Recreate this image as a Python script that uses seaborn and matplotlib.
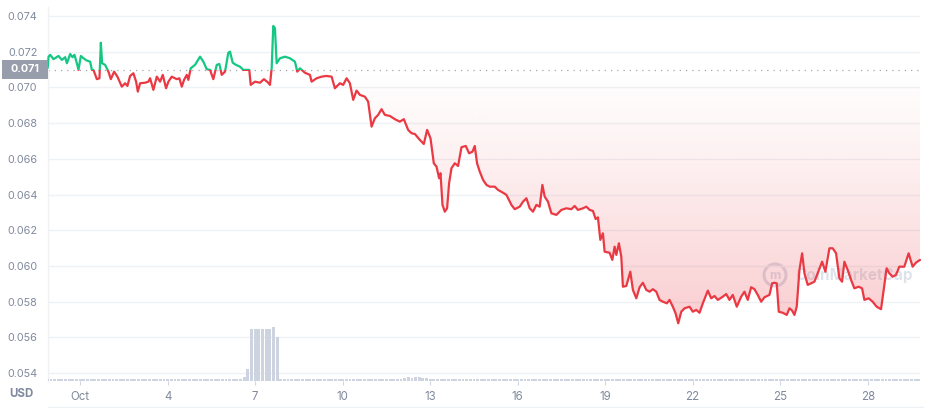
import numpy as np
import pandas as pd
import matplotlib
matplotlib.use("Agg")
import matplotlib.pyplot as plt
import seaborn as sns
from matplotlib.patches import Rectangle, Ellipse
from matplotlib.lines import Line2D
from matplotlib.colors import to_rgb

RED = "#ea3943"
GREEN = "#16c784"
GREY = "#808a9d"
GRID = "#eff2f5"
BAR = "#cdd3df"
MARK = "#c9d1df"

# price, days counted from Oct 0 (Oct 1 = 1.0)
days = [
    -0.113, -0.084, -0.027, 0.086, 0.257, 0.373, 0.486, 0.545, 0.658, 0.736,
    0.805, 0.887, 0.942, 1.024, 1.113, 1.229, 1.342, 1.401, 1.455, 1.572,
    1.661, 1.709, 1.753, 1.856, 1.969, 2.051, 2.164, 2.277, 2.428, 2.541,
    2.620, 2.712, 2.825, 2.918, 2.976, 3.055, 3.226, 3.339, 3.397, 3.510,
    3.627, 3.740, 3.832, 3.945, 4.024, 4.140, 4.312, 4.401, 4.483, 4.562,
    4.654, 4.709, 4.791, 4.938, 5.110, 5.223, 5.339, 5.452, 5.565, 5.682,
    5.771, 5.853, 5.966, 6.079, 6.137, 6.229, 6.342, 6.479, 6.592, 6.798,
    6.846, 6.993, 7.164, 7.301, 7.449, 7.507, 7.565, 7.620, 7.678, 7.736,
    7.849, 8.021, 8.192, 8.363, 8.442, 8.534, 8.705, 8.877, 8.935, 9.106,
    9.277, 9.449, 9.620, 9.733, 9.904, 10.017, 10.134, 10.247, 10.360, 10.476,
    10.589, 10.760, 10.873, 10.990, 11.103, 11.216, 11.332, 11.445, 11.616, 11.788,
    11.959, 12.096, 12.243, 12.360, 12.473, 12.644, 12.781, 12.894, 13.010, 13.123,
    13.216, 13.305, 13.353, 13.421, 13.500, 13.579, 13.647, 13.729, 13.842, 13.955,
    14.072, 14.219, 14.332, 14.449, 14.527, 14.606, 14.699, 14.812, 14.928, 15.041,
    15.212, 15.325, 15.497, 15.613, 15.784, 15.897, 16.068, 16.182, 16.298, 16.411,
    16.524, 16.640, 16.753, 16.846, 16.925, 17.038, 17.154, 17.325, 17.497, 17.668,
    17.839, 17.952, 18.065, 18.236, 18.353, 18.466, 18.579, 18.671, 18.750, 18.832,
    18.921, 18.979, 19.151, 19.243, 19.322, 19.380, 19.469, 19.551, 19.606, 19.723,
    19.860, 19.949, 20.065, 20.178, 20.291, 20.408, 20.521, 20.634, 20.750, 20.863,
    20.976, 21.113, 21.205, 21.318, 21.411, 21.503, 21.606, 21.719, 21.890, 22.003,
    22.120, 22.233, 22.346, 22.517, 22.633, 22.747, 22.860, 23.031, 23.147, 23.260,
    23.373, 23.510, 23.661, 23.774, 23.887, 24.003, 24.116, 24.229, 24.346, 24.459,
    24.630, 24.723, 24.801, 24.880, 24.949, 25.086, 25.223, 25.315, 25.408, 25.486,
    25.565, 25.658, 25.750, 25.829, 25.942, 26.058, 26.171, 26.284, 26.435, 26.548,
    26.685, 26.798, 26.914, 27.027, 27.120, 27.199, 27.312, 27.428, 27.541, 27.688,
    27.805, 27.884, 28.031, 28.168, 28.305, 28.455, 28.568, 28.647, 28.740, 28.853,
    28.969, 29.082, 29.253, 29.401, 29.538, 29.654, 29.791,
]
price = [
    0.07109, 0.07172, 0.07182, 0.07158, 0.07176, 0.07154, 0.07169, 0.07135, 0.07187, 0.07169,
    0.07182, 0.07135, 0.07098, 0.07176, 0.07163, 0.07150, 0.07144, 0.07098, 0.07098, 0.07046,
    0.07051, 0.07250, 0.07135, 0.07126, 0.07088, 0.07046, 0.07088, 0.07060, 0.07004, 0.07023,
    0.07008, 0.07064, 0.07079, 0.07032, 0.06976, 0.07023, 0.07026, 0.07032, 0.07051, 0.06986,
    0.07060, 0.07032, 0.07070, 0.06995, 0.07032, 0.07060, 0.07046, 0.07051, 0.07004, 0.07042,
    0.07070, 0.07042, 0.07107, 0.07126, 0.07172, 0.07144, 0.07102, 0.07098, 0.07046, 0.07126,
    0.07131, 0.07070, 0.07088, 0.07194, 0.07200, 0.07138, 0.07126, 0.07116, 0.07098, 0.07098,
    0.07014, 0.07032, 0.07026, 0.07046, 0.07026, 0.07014, 0.07107, 0.07344, 0.07331, 0.07135,
    0.07163, 0.07172, 0.07163, 0.07144, 0.07088, 0.07107, 0.07082, 0.07070, 0.07032, 0.07051,
    0.07060, 0.07064, 0.07060, 0.06995, 0.07023, 0.07014, 0.07051, 0.07023, 0.06930, 0.06982,
    0.06958, 0.06948, 0.06920, 0.06780, 0.06827, 0.06846, 0.06878, 0.06846, 0.06840, 0.06822,
    0.06808, 0.06822, 0.06762, 0.06743, 0.06739, 0.06706, 0.06683, 0.06762, 0.06715, 0.06575,
    0.06556, 0.06491, 0.06519, 0.06342, 0.06304, 0.06323, 0.06463, 0.06547, 0.06575, 0.06560,
    0.06665, 0.06672, 0.06631, 0.06640, 0.06672, 0.06575, 0.06528, 0.06482, 0.06454, 0.06444,
    0.06444, 0.06426, 0.06410, 0.06398, 0.06342, 0.06318, 0.06332, 0.06360, 0.06379, 0.06323,
    0.06304, 0.06342, 0.06332, 0.06454, 0.06388, 0.06360, 0.06295, 0.06286, 0.06314, 0.06323,
    0.06318, 0.06336, 0.06314, 0.06323, 0.06332, 0.06314, 0.06308, 0.06263, 0.06272, 0.06146,
    0.06183, 0.06080, 0.06074, 0.06034, 0.06108, 0.06062, 0.06127, 0.06052, 0.05884, 0.05888,
    0.05968, 0.05866, 0.05819, 0.05881, 0.05906, 0.05866, 0.05856, 0.05870, 0.05856, 0.05810,
    0.05800, 0.05791, 0.05810, 0.05772, 0.05735, 0.05679, 0.05744, 0.05763, 0.05772, 0.05744,
    0.05754, 0.05738, 0.05791, 0.05862, 0.05819, 0.05832, 0.05810, 0.05828, 0.05843, 0.05810,
    0.05838, 0.05772, 0.05828, 0.05856, 0.05810, 0.05881, 0.05870, 0.05838, 0.05800, 0.05825,
    0.05838, 0.05903, 0.05906, 0.05903, 0.05744, 0.05738, 0.05726, 0.05763, 0.05750, 0.05726,
    0.05772, 0.05978, 0.06071, 0.05959, 0.05894, 0.05903, 0.05912, 0.05959, 0.06024, 0.05968,
    0.06099, 0.06099, 0.06071, 0.05931, 0.05912, 0.06024, 0.05978, 0.05922, 0.05875, 0.05884,
    0.05875, 0.05810, 0.05819, 0.05800, 0.05772, 0.05758, 0.05894, 0.05987, 0.05959, 0.05940,
    0.05950, 0.05996, 0.05996, 0.06071, 0.05996, 0.06019, 0.06034,
]
ref_price = 0.071

# volume, relative, 3-hour bars starting at day -0.125
vol_start = -0.125
vol_step = 0.125
volume = [
    0.04, 0.04, 0.04, 0.04, 0.04, 0.04, 0.04, 0.04,
    0.04, 0.04, 0.04, 0.04, 0.04, 0.04, 0.04, 0.04,
    0.04, 0.04, 0.04, 0.04, 0.04, 0.04, 0.04, 0.04,
    0.04, 0.04, 0.04, 0.04, 0.04, 0.04, 0.04, 0.04,
    0.04, 0.04, 0.04, 0.04, 0.04, 0.04, 0.04, 0.04,
    0.04, 0.04, 0.04, 0.04, 0.04, 0.04, 0.04, 0.04,
    0.04, 0.04, 0.04, 0.04, 0.04, 0.04, 0.08, 0.23,
    1.00, 1.00, 1.00, 1.00, 1.00, 1.00, 1.04, 0.85,
    0.04, 0.04, 0.04, 0.04, 0.04, 0.04, 0.04, 0.04,
    0.04, 0.04, 0.04, 0.04, 0.04, 0.04, 0.04, 0.04,
    0.04, 0.04, 0.04, 0.04, 0.04, 0.04, 0.04, 0.04,
    0.04, 0.04, 0.04, 0.04, 0.04, 0.04, 0.04, 0.04,
    0.04, 0.04, 0.065, 0.07, 0.065, 0.07, 0.07, 0.065,
    0.06, 0.04, 0.04, 0.04, 0.04, 0.04, 0.04, 0.04,
    0.04, 0.04, 0.04, 0.04, 0.04, 0.04, 0.04, 0.04,
    0.04, 0.04, 0.04, 0.04, 0.04, 0.04, 0.04, 0.04,
    0.04, 0.04, 0.04, 0.04, 0.04, 0.04, 0.04, 0.04,
    0.04, 0.04, 0.04, 0.04, 0.04, 0.04, 0.04, 0.04,
    0.04, 0.04, 0.04, 0.04, 0.04, 0.04, 0.04, 0.04,
    0.04, 0.04, 0.04, 0.04, 0.04, 0.04, 0.04, 0.04,
    0.04, 0.04, 0.04, 0.04, 0.04, 0.04, 0.04, 0.04,
    0.04, 0.04, 0.04, 0.04, 0.04, 0.04, 0.04, 0.04,
    0.04, 0.04, 0.04, 0.04, 0.04, 0.04, 0.04, 0.04,
    0.04, 0.04, 0.04, 0.04, 0.04, 0.04, 0.04, 0.04,
    0.04, 0.04, 0.04, 0.04, 0.04, 0.04, 0.04, 0.04,
    0.04, 0.04, 0.04, 0.04, 0.04, 0.04, 0.04, 0.04,
    0.04, 0.04, 0.04, 0.04, 0.04, 0.04, 0.04, 0.04,
    0.04, 0.04, 0.04, 0.04, 0.04, 0.04, 0.04, 0.04,
    0.04, 0.04, 0.04, 0.04, 0.04, 0.04, 0.04, 0.04,
    0.04, 0.04, 0.04, 0.04, 0.04, 0.04, 0.04, 0.04,
]

x_ticks = [1, 4, 7, 10, 13, 16, 19, 22, 25, 28]
x_labels = ["Oct", "4", "7", "10", "13", "16", "19", "22", "25", "28"]
y_ticks = [0.054, 0.056, 0.058, 0.060, 0.062, 0.064, 0.066, 0.068, 0.070, 0.072, 0.074]

sns.set_theme(style="white")
plt.rcParams["font.family"] = ["Inter", "DejaVu Sans"]

df = pd.DataFrame({"day": days, "price": price})
x0, x1 = df["day"].min(), df["day"].max()
p = df["price"].to_numpy()

fig = plt.figure(figsize=(9.42, 4.08), dpi=100)
ax = fig.add_axes([47.7 / 942, 27 / 408, (920 - 47.7) / 942, 374 / 408])

# gradient fills between price and the reference price
fill_lo = ax.fill_between(df["day"], np.minimum(p, ref_price), ref_price,
                          facecolor="none", edgecolor="none")
fill_hi = ax.fill_between(df["day"], ref_price, np.maximum(p, ref_price),
                          facecolor="none", edgecolor="none")

grad_r = np.zeros((256, 1, 4))
grad_r[..., :3] = to_rgb(RED)
grad_r[:, 0, 3] = np.linspace(0.30, 0.0, 256) ** 1.15
img_r = ax.imshow(grad_r, extent=[x0, x1, p.min(), ref_price], origin="lower",
                  aspect="auto", zorder=1, interpolation="bilinear")
img_r.set_clip_path(fill_lo.get_paths()[0], transform=ax.transData)

grad_g = np.zeros((256, 1, 4))
grad_g[..., :3] = to_rgb(GREEN)
grad_g[:, 0, 3] = np.linspace(0.0, 0.12, 256)
img_g = ax.imshow(grad_g, extent=[x0, x1, ref_price, p.max()], origin="lower",
                  aspect="auto", zorder=1, interpolation="bilinear")
img_g.set_clip_path(fill_hi.get_paths()[0], transform=ax.transData)

# reference price dotted line
ax.axhline(ref_price, color="#a4a7ad", lw=0.9, ls=(0, (1, 4)), zorder=2)

# price line, green above the reference and red below
sns.lineplot(data=df, x="day", y="price", color=GREEN, lw=1.6, ax=ax, zorder=3)
sns.lineplot(data=df, x="day", y="price", color=RED, lw=1.6, ax=ax, zorder=3)
above = Rectangle((x0 - 5, ref_price), x1 - x0 + 10, 1, transform=ax.transData)
below = Rectangle((x0 - 5, ref_price - 1), x1 - x0 + 10, 1, transform=ax.transData)
ax.lines[-2].set_clip_path(above)
ax.lines[-1].set_clip_path(below)

ax.set_xlim(x0, x1)
ax.set_ylim(0.05356, 0.0745)
ax.set_xticks(x_ticks)
ax.set_xticklabels(x_labels)
ax.set_yticks(y_ticks)
ax.set_yticklabels([f"{v:.3f}" for v in y_ticks])
ax.set_xlabel("")
ax.set_ylabel("")
ax.grid(axis="y", color=GRID, lw=1)
ax.set_axisbelow(True)
ax.tick_params(axis="y", length=0, pad=7.5, labelsize=7.8, labelcolor=GREY)
ax.tick_params(axis="x", length=3, width=0.8, color="#cfd6e4", pad=4,
               labelsize=8.3, labelcolor=GREY, bottom=True)
for side in ["top", "right", "bottom"]:
    ax.spines[side].set_visible(False)
ax.spines["left"].set_color(GRID)
ax.spines["left"].set_linewidth(1)

# watermark: ring logo + name
ring = Ellipse((775 / 942, 1 - 275 / 408), 22 / 942, 22 / 408,
               transform=fig.transFigure, facecolor="none", edgecolor=MARK,
               lw=2.2, alpha=0.7, zorder=0.5)
ax.add_artist(ring)
ax.text(775 / 942, 1 - 276 / 408, "m", transform=fig.transFigure, ha="center",
        va="center", fontsize=9, weight="bold", color=MARK, alpha=0.7, zorder=0.5)
ax.text(795 / 942, 1 - 275 / 408, "CoinMarketCap", transform=fig.transFigure,
        ha="left", va="center", fontsize=11, weight="bold", color=MARK,
        alpha=0.6, zorder=0.5)

# volume bars on a hidden twin axis
ax2 = ax.twinx()
vol_days = vol_start + vol_step * np.arange(len(volume))
ax2.bar(vol_days, volume, width=vol_step * 0.8, color=BAR, linewidth=0)
ax2.set_ylim(0, 374 / 52)
ax2.set_xlim(x0, x1)
ax2.axis("off")

# current price tag on the y axis
fig.add_artist(Rectangle((1.7 / 942, (408 - 79) / 408), 46 / 942, 19 / 408,
                         transform=fig.transFigure, facecolor="#989dab",
                         edgecolor="none"))
fig.text(24.7 / 942, 1 - 69.5 / 408, "0.071", ha="center", va="center",
         color="white", weight="bold", fontsize=7.8)

fig.text(21 / 942, 1 - 394 / 408, "USD", ha="center", va="center",
         weight="bold", color=GREY, fontsize=8.3)
fig.add_artist(Line2D([47.7 / 942, 923 / 942], [1.5 / 408, 1.5 / 408],
                      transform=fig.transFigure, color=GRID, lw=1))

fig.savefig("out.png", dpi=100)
